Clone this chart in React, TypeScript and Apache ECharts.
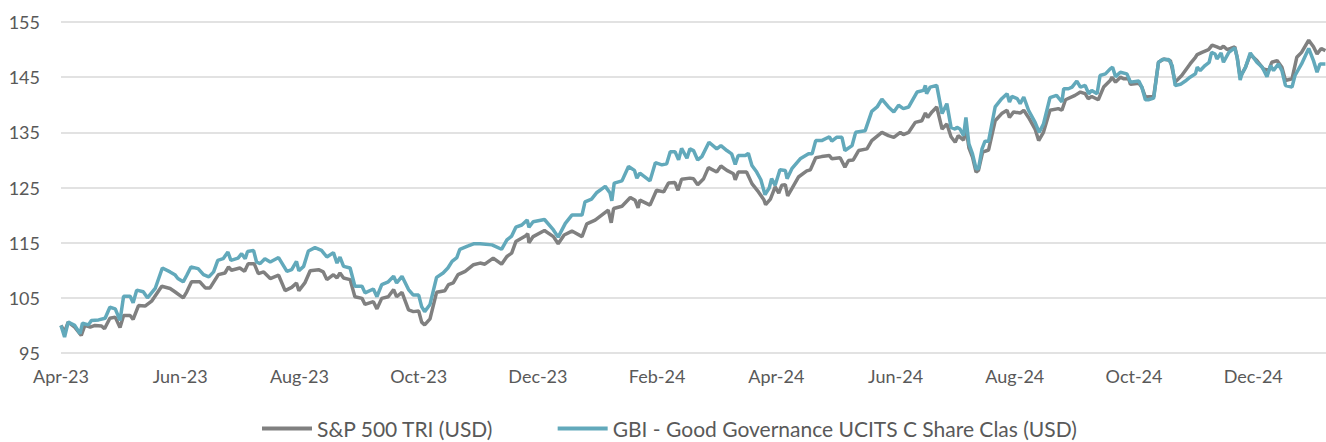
import React, { useEffect, useRef } from "react";
import * as echarts from "echarts";

// x positions are months elapsed since Apr-23
const xLabels = ["Apr-23", "Jun-23", "Aug-23", "Oct-23", "Dec-23", "Feb-24", "Apr-24", "Jun-24", "Aug-24", "Oct-24", "Dec-24"];
const yMin = 95;
const yMax = 155;
const yStep = 10;
const xMax = 21.22;

const seriesNames = ["S&P 500 TRI (USD)", "GBI - Good Governance UCITS C Share Clas (USD)"];

const spMonths = [
  0.0, 0.06, 0.12, 0.23, 0.34, 0.4, 0.49, 0.57, 0.68, 0.73, 0.82, 0.91, 0.99, 1.05, 1.16, 1.21, 1.3, 1.41, 1.52, 1.69,
  1.83, 1.91, 2.05, 2.11, 2.19, 2.33, 2.42, 2.5, 2.64, 2.75, 2.81, 2.86, 3.0, 3.08, 3.14, 3.24, 3.31, 3.4, 3.51, 3.65,
  3.76, 3.87, 3.95, 3.99, 4.09, 4.18, 4.32, 4.4, 4.46, 4.57, 4.63, 4.68, 4.74, 4.85, 4.93, 5.05, 5.1, 5.24, 5.3, 5.38,
  5.49, 5.58, 5.63, 5.72, 5.83, 5.91, 6.0, 6.05, 6.1, 6.19, 6.3, 6.44, 6.5, 6.58, 6.66, 6.78, 6.92, 7.03, 7.11, 7.25,
  7.39, 7.48, 7.56, 7.63, 7.79, 7.83, 7.85, 7.92, 8.11, 8.26, 8.34, 8.44, 8.57, 8.74, 8.82, 8.96, 9.07, 9.18, 9.23, 9.27,
  9.41, 9.55, 9.63, 9.68, 9.71, 9.88, 9.99, 10.11, 10.19, 10.3, 10.35, 10.41, 10.55, 10.61, 10.68, 10.78, 10.86, 11.0, 11.07, 11.17,
  11.28, 11.31, 11.36, 11.5, 11.59, 11.7, 11.79, 11.82, 11.9, 11.98, 12.04, 12.09, 12.15, 12.19, 12.26, 12.37, 12.51, 12.57, 12.66, 12.76,
  12.89, 12.93, 13.07, 13.15, 13.21, 13.29, 13.38, 13.52, 13.6, 13.77, 13.88, 13.97, 14.08, 14.13, 14.22, 14.33, 14.44, 14.5, 14.54, 14.61,
  14.69, 14.78, 14.86, 14.93, 15.0, 15.05, 15.14, 15.18, 15.23, 15.29, 15.35, 15.39, 15.46, 15.56, 15.67, 15.78, 15.87, 15.91, 15.98, 16.09,
  16.15, 16.23, 16.34, 16.4, 16.48, 16.59, 16.73, 16.79, 16.85, 17.01, 17.1, 17.18, 17.23, 17.29, 17.4, 17.49, 17.6, 17.63, 17.69, 17.77,
  17.83, 17.91, 17.94, 18.08, 18.13, 18.19, 18.33, 18.41, 18.5, 18.61, 18.69, 18.8, 18.94, 19.03, 19.06, 19.14, 19.25, 19.31, 19.39, 19.45,
  19.5, 19.56, 19.62, 19.69, 19.73, 19.78, 19.87, 19.95, 20.06, 20.17, 20.26, 20.31, 20.4, 20.48, 20.54, 20.65, 20.73, 20.81, 20.93, 21.01,
  21.07, 21.14, 21.21,
];
const spValues = [
  100.0, 98.8, 100.6, 99.7, 98.2, 100.0, 99.7, 100.0, 99.9, 99.4, 101.3, 101.5, 99.6, 101.8, 101.8, 101.1, 103.6, 103.5, 104.4, 107.1,
  106.7, 106.1, 105.0, 106.1, 107.9, 107.9, 106.8, 106.8, 109.2, 109.5, 110.6, 110.0, 110.4, 109.8, 111.2, 111.2, 109.4, 109.7, 108.5, 109.1,
  106.3, 106.9, 107.7, 106.3, 107.7, 109.9, 110.1, 109.7, 108.3, 109.2, 108.6, 109.5, 108.6, 108.3, 105.2, 104.9, 103.8, 104.3, 103.0, 104.9,
  105.2, 106.5, 105.2, 106.0, 102.8, 102.5, 102.6, 100.6, 100.1, 101.2, 106.0, 106.3, 107.4, 107.7, 109.2, 109.8, 111.0, 111.3, 111.1, 112.2,
  111.1, 112.5, 113.1, 115.2, 116.2, 116.6, 115.0, 116.1, 117.2, 116.1, 114.8, 116.4, 117.1, 116.1, 118.4, 119.1, 120.0, 120.9, 118.6, 121.2,
  121.6, 123.2, 122.7, 121.3, 122.7, 121.8, 124.5, 124.2, 125.8, 125.9, 124.5, 126.5, 126.7, 126.6, 125.5, 126.6, 128.6, 127.8, 128.9, 128.1,
  127.5, 126.4, 127.8, 127.8, 125.7, 124.2, 122.8, 121.9, 122.9, 125.1, 124.0, 125.4, 125.5, 123.5, 124.8, 126.9, 128.0, 128.2, 130.4, 130.6,
  130.8, 130.2, 130.4, 128.7, 129.9, 130.0, 131.7, 132.0, 133.5, 135.0, 134.4, 134.1, 135.0, 134.6, 135.0, 136.8, 137.1, 138.5, 137.7, 138.7,
  139.6, 135.6, 136.5, 134.2, 133.2, 134.4, 133.6, 135.9, 132.2, 130.5, 127.8, 128.1, 131.4, 131.8, 137.1, 138.4, 139.0, 137.7, 138.7, 138.5,
  139.0, 137.7, 135.6, 133.5, 135.0, 139.0, 139.3, 139.0, 140.9, 141.7, 142.3, 142.0, 141.1, 141.5, 140.9, 143.2, 144.4, 145.0, 144.1, 145.0,
  144.7, 144.7, 143.7, 143.9, 143.2, 141.4, 141.5, 147.7, 148.3, 148.0, 144.1, 145.3, 147.4, 148.6, 149.1, 149.5, 150.0, 150.8, 150.5, 150.2,
  150.6, 150.0, 150.2, 150.5, 148.6, 145.0, 146.8, 149.1, 148.0, 146.5, 146.2, 147.7, 148.0, 146.8, 144.4, 144.7, 148.6, 149.5, 151.7, 150.5,
  149.2, 150.2, 149.8,
];

const gbiMonths = [
  0.0, 0.06, 0.12, 0.23, 0.32, 0.36, 0.46, 0.51, 0.63, 0.74, 0.82, 0.91, 0.99, 1.05, 1.16, 1.21, 1.27, 1.38, 1.45, 1.58,
  1.7, 1.83, 1.91, 1.96, 2.05, 2.11, 2.18, 2.3, 2.39, 2.48, 2.56, 2.63, 2.72, 2.8, 2.85, 2.97, 3.03, 3.09, 3.13, 3.23,
  3.28, 3.34, 3.42, 3.51, 3.65, 3.79, 3.87, 3.95, 3.99, 4.07, 4.15, 4.26, 4.37, 4.46, 4.57, 4.63, 4.68, 4.74, 4.85, 4.93,
  5.05, 5.1, 5.24, 5.3, 5.38, 5.49, 5.58, 5.63, 5.72, 5.83, 5.91, 6.0, 6.05, 6.1, 6.19, 6.3, 6.41, 6.49, 6.56, 6.64,
  6.69, 6.83, 6.92, 7.03, 7.23, 7.39, 7.48, 7.56, 7.63, 7.73, 7.82, 7.85, 7.92, 8.11, 8.26, 8.34, 8.46, 8.57, 8.74, 8.79,
  8.9, 8.99, 9.13, 9.21, 9.24, 9.28, 9.41, 9.52, 9.62, 9.66, 9.71, 9.88, 9.97, 10.08, 10.16, 10.22, 10.3, 10.36, 10.41, 10.5,
  10.55, 10.61, 10.68, 10.75, 10.87, 11.0, 11.07, 11.17, 11.25, 11.31, 11.36, 11.48, 11.53, 11.59, 11.67, 11.74, 11.81, 11.88, 11.92, 11.98,
  12.06, 12.15, 12.18, 12.26, 12.4, 12.54, 12.6, 12.66, 12.76, 12.89, 12.93, 13.01, 13.1, 13.15, 13.27, 13.33, 13.49, 13.6, 13.69, 13.77,
  13.88, 13.97, 14.05, 14.13, 14.22, 14.36, 14.47, 14.5, 14.52, 14.58, 14.69, 14.78, 14.86, 14.93, 15.0, 15.03, 15.08, 15.14, 15.18, 15.23,
  15.29, 15.35, 15.39, 15.45, 15.5, 15.56, 15.67, 15.78, 15.87, 15.91, 15.95, 16.04, 16.09, 16.15, 16.23, 16.34, 16.41, 16.48, 16.59, 16.7,
  16.79, 16.82, 16.9, 16.96, 17.04, 17.1, 17.18, 17.24, 17.29, 17.38, 17.43, 17.52, 17.6, 17.64, 17.69, 17.77, 17.88, 17.94, 18.08, 18.13,
  18.19, 18.24, 18.33, 18.41, 18.47, 18.58, 18.64, 18.69, 18.78, 18.86, 18.94, 19.03, 19.06, 19.11, 19.19, 19.26, 19.3, 19.36, 19.39, 19.46,
  19.5, 19.59, 19.69, 19.73, 19.78, 19.81, 19.87, 19.95, 20.06, 20.15, 20.23, 20.29, 20.34, 20.42, 20.48, 20.54, 20.65, 20.7, 20.81, 20.93,
  21.01, 21.07, 21.12, 21.21,
];
const gbiValues = [
  100.0, 97.9, 100.6, 100.0, 98.5, 100.4, 100.1, 100.9, 101.0, 101.3, 103.3, 103.0, 100.9, 105.3, 105.3, 104.1, 106.4, 106.1, 105.0, 106.7,
  110.4, 109.7, 109.2, 108.5, 107.9, 109.1, 110.6, 110.3, 109.2, 108.8, 109.7, 111.8, 112.1, 113.3, 111.8, 112.2, 113.0, 112.1, 113.4, 113.6,
  111.5, 111.2, 112.1, 111.5, 112.3, 109.8, 110.1, 111.6, 109.9, 110.7, 113.5, 114.1, 113.6, 112.4, 113.2, 111.3, 112.4, 110.7, 110.4, 107.1,
  107.1, 105.9, 106.6, 105.2, 107.4, 107.9, 108.9, 107.7, 108.9, 106.5, 105.5, 105.5, 103.4, 102.5, 103.8, 108.7, 109.5, 110.4, 111.6, 112.3,
  113.8, 114.4, 114.8, 114.8, 114.6, 113.8, 115.5, 116.2, 117.8, 118.2, 119.1, 117.8, 118.8, 119.2, 117.3, 116.0, 118.5, 120.0, 120.0, 122.4,
  122.9, 124.1, 125.2, 124.0, 122.6, 125.8, 126.2, 128.8, 128.1, 126.7, 127.6, 126.2, 129.5, 129.1, 129.3, 131.5, 131.5, 130.0, 132.1, 130.3,
  132.0, 131.7, 130.0, 130.6, 133.2, 132.0, 132.6, 131.7, 131.1, 129.2, 130.8, 130.8, 131.2, 129.0, 127.8, 126.4, 123.7, 124.9, 126.6, 125.4,
  128.2, 128.1, 126.6, 128.4, 130.2, 131.1, 131.1, 133.5, 133.5, 134.2, 133.4, 134.1, 134.1, 131.7, 132.6, 135.0, 135.3, 138.8, 139.6, 141.0,
  139.6, 138.7, 139.9, 139.3, 139.6, 142.3, 142.6, 143.5, 142.0, 143.2, 143.5, 138.4, 140.2, 135.9, 135.6, 135.9, 135.6, 134.4, 137.7, 132.9,
  131.1, 128.4, 128.4, 132.0, 133.4, 133.4, 139.6, 141.1, 142.0, 140.5, 141.5, 141.1, 140.2, 141.4, 139.0, 136.8, 135.0, 136.5, 141.3, 141.7,
  140.5, 142.9, 142.9, 143.2, 144.3, 143.2, 143.5, 142.0, 142.6, 142.0, 145.3, 145.6, 146.5, 146.8, 145.1, 145.9, 145.6, 144.1, 144.3, 143.2,
  140.9, 140.9, 141.2, 147.7, 148.2, 148.2, 147.1, 143.5, 143.7, 144.3, 145.0, 145.6, 146.8, 146.2, 147.1, 147.7, 149.5, 149.2, 148.3, 149.4,
  147.7, 149.5, 150.3, 148.6, 144.5, 145.6, 146.8, 149.4, 147.7, 146.8, 145.1, 147.1, 146.2, 147.4, 146.2, 143.5, 143.2, 145.3, 147.4, 150.2,
  148.0, 145.9, 147.4, 147.4,
];

const FONT = "Lato, 'Open Sans', sans-serif";

export default function App() {
  const ref = useRef<HTMLDivElement>(null);

  useEffect(() => {
    if (!ref.current) return;
    const chart = echarts.init(ref.current, null, { renderer: "svg" });
    const sp = spMonths.map((m, i) => [m, spValues[i]]);
    const gbi = gbiMonths.map((m, i) => [m, gbiValues[i]]);
    chart.setOption({
      animation: false,
      backgroundColor: "#ffffff",
      textStyle: { fontFamily: FONT },
      grid: { left: 61, right: 0, top: 22, bottom: 89, containLabel: false },
      legend: {
        left: 262,
        top: 417,
        icon: "rect",
        itemWidth: 50,
        itemHeight: 4,
        itemGap: 64,
        padding: 0,
        textStyle: { fontSize: 21, lineHeight: 23, color: "#595959", fontFamily: FONT },
        data: seriesNames,
      },
      xAxis: {
        type: "value",
        min: 0,
        max: xMax,
        interval: 2,
        axisLine: { show: false },
        axisTick: { show: false },
        splitLine: { show: false },
        axisLabel: {
          color: "#595959",
          fontSize: 18,
          fontFamily: FONT,
          margin: 14,
          showMaxLabel: false,
          formatter: (v: number) => {
            const i = Math.round(v / 2);
            return Math.abs(v - i * 2) < 1e-6 && xLabels[i] ? xLabels[i] : "";
          },
        },
      },
      yAxis: {
        type: "value",
        min: yMin,
        max: yMax,
        interval: yStep,
        axisLine: { show: false },
        axisTick: { show: false },
        splitLine: { lineStyle: { color: "#d9d9d9", width: 1.5 } },
        axisLabel: { color: "#595959", fontSize: 18, fontFamily: FONT, margin: 21 },
      },
      series: [
        {
          name: seriesNames[0],
          type: "line",
          data: sp,
          symbol: "none",
          lineStyle: { color: "#808080", width: 3.5 },
          itemStyle: { color: "#808080" },
          z: 2,
        },
        {
          name: seriesNames[1],
          type: "line",
          data: gbi,
          symbol: "none",
          lineStyle: { color: "#62a9bb", width: 3.5 },
          itemStyle: { color: "#62a9bb" },
          z: 3,
        },
      ],
    });
    return () => chart.dispose();
  }, []);

  return (
    <div
      ref={ref}
      style={{ position: "fixed", left: 0, top: 0, width: 1326, height: 442, background: "#fff" }}
    />
  );
}
